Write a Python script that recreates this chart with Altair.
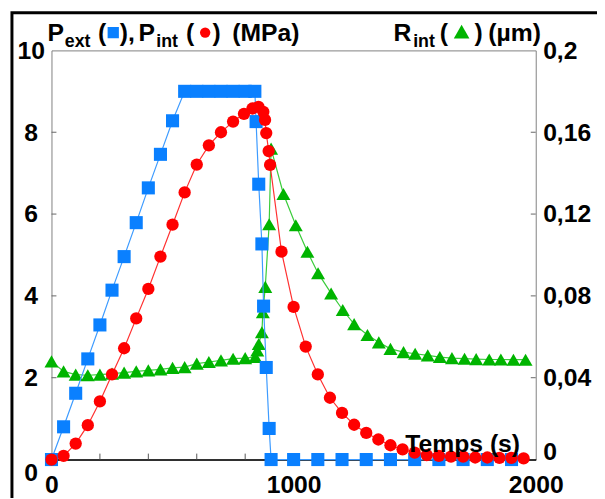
import altair as alt
import pandas as pd

# ---- data ----
t_ext = [0, 50, 100, 150, 200, 250, 300, 350, 400, 450, 500,
         550, 600, 650, 700, 750, 800, 840,
         845, 856, 869, 876, 887, 899, 907,
         1000, 1100, 1200, 1300, 1400, 1500, 1600, 1700, 1800, 1900]
p_ext = [0, 0.80, 1.62, 2.46, 3.29, 4.14, 4.96, 5.79, 6.64, 7.46, 8.28,
         9.0, 9.0, 9.0, 9.0, 9.0, 9.0, 9.0,
         8.26, 6.73, 5.27, 3.75, 2.25, 0.76, 0,
         0, 0, 0, 0, 0, 0, 0, 0, 0, 0]

t_int = [0, 50, 100, 150, 200, 250, 300, 350, 400, 450, 500, 550, 600, 650, 700, 750,
         795, 830, 855, 875, 882, 887, 897, 903,
         950, 1000, 1050, 1100, 1150, 1200, 1250, 1300, 1350, 1400, 1450, 1500,
         1550, 1600, 1650, 1700, 1750, 1800, 1850, 1900, 1950]
p_int = [0, 0.09, 0.39, 0.84, 1.42, 2.08, 2.72, 3.45, 4.17, 4.96, 5.74, 6.53, 7.21, 7.68, 8.00, 8.26,
         8.45, 8.58, 8.62, 8.50, 8.30, 7.98, 7.54, 7.20,
         5.08, 3.73, 2.76, 2.08, 1.51, 1.14, 0.85, 0.65, 0.49, 0.35, 0.25, 0.17,
         0.11, 0.09, 0.07, 0.07, 0.05, 0.05, 0.04, 0.04, 0.03]

t_r = [0, 50, 100, 150, 200, 250, 300, 350, 400, 450, 500, 550, 600, 650, 700, 750, 800,
       842, 850, 856, 869, 873, 883, 899, 907,
       958, 1009, 1057, 1101, 1155, 1203, 1250, 1305, 1352, 1400, 1454, 1502,
       1554, 1604, 1654, 1706, 1754, 1808, 1856, 1908, 1958]
r_int = [0.048, 0.0431, 0.0415, 0.0412, 0.0415, 0.0420, 0.0425, 0.0431, 0.0436, 0.0441, 0.0448,
         0.0452, 0.0469, 0.0477, 0.0485, 0.0493, 0.0496,
         0.0501, 0.0533, 0.0565, 0.0622, 0.0720, 0.0844, 0.115, 0.152,
         0.1298, 0.1145, 0.1016, 0.0911, 0.0812, 0.0731, 0.0662, 0.0609, 0.0573, 0.0541, 0.0525, 0.0517,
         0.0509, 0.0501, 0.0496, 0.0493, 0.0491, 0.0489, 0.0489, 0.0488, 0.0488]

x_labels = [0, 1000, 2000]
left_labels = [0, 2, 4, 6, 8, 10]
right_labels = [0, 0.04, 0.08, 0.12, 0.16, 0.2]
x_minor_ticks = [200, 400, 600, 800, 1000, 1200, 1400, 1600, 1800]
left_ticks = [2, 4, 6, 8]
right_ticks = [0.04, 0.08, 0.12, 0.16]

FONT = "Liberation Sans"
LFS = 25  # axis label font size
TFS = 25  # title text size
SFS = 18  # subscript size
BLUE, BLUE_L = "#0A80FF", "#3D9BFF"
RED, RED_L = "#FF0000", "#FF3030"
GREEN, GREEN_L = "#00B400", "#3ACC3A"

ext_df = pd.DataFrame({"t": t_ext, "v": p_ext})
int_df = pd.DataFrame({"t": t_int, "v": p_int})
r_df = pd.DataFrame({"t": t_r, "r": r_int})

xscale = alt.Scale(domain=[0, 2000], nice=False, zero=False)
yL = alt.Scale(domain=[0, 10], nice=False)
yR = alt.Scale(domain=[0, 0.2], nice=False)

x_axis = alt.Axis(values=x_labels, format="d", tickSize=0, grid=False, title=None,
                  domain=True, domainColor="black", domainWidth=1.5,
                  labelFont=FONT, labelFontSize=LFS, labelFontWeight="bold", labelColor="black",
                  labelPadding=13, labelFlush=False, labelOverlap=False)
yl_axis = alt.Axis(values=left_labels, format="d", tickSize=0, grid=False, title=None,
                   domain=False, orient="left", labelAlign="center", labelBaseline="middle",
                   labelOffset={"condition": {"test": "datum.value == 0", "value": 13},
                                "value": 0},
                   labelFont=FONT, labelFontSize=LFS, labelFontWeight="bold", labelColor="black",
                   labelPadding=21, labelOverlap=False)
yr_axis = alt.Axis(values=right_labels, format=".2~f",
                   labelExpr="replace(datum.label, '.', ',')",
                   labelBaseline={"condition": {"test": "datum.value == 0", "value": "alphabetic"},
                                  "value": "middle"},
                   tickSize=0, grid=False, title=None, domain=False, orient="right",
                   labelFont=FONT, labelFontSize=LFS, labelFontWeight="bold", labelColor="black",
                   labelPadding=7, labelOverlap=False)

X = alt.X("t:Q", scale=xscale, axis=x_axis)


def YL(f="v"):
    return alt.Y(f"{f}:Q", scale=yL, axis=yl_axis)


def YR(f="r"):
    return alt.Y(f"{f}:Q", scale=yR, axis=yr_axis)


ext_line = alt.Chart(ext_df).mark_line(color=BLUE_L, strokeWidth=1.2).encode(x=X, y=YL())
ext_pts = alt.Chart(ext_df).mark_point(shape="square", filled=True, size=175, color=BLUE,
                                      opacity=1).encode(x=X, y=YL())
int_line = alt.Chart(int_df).mark_line(color=RED_L, strokeWidth=1.2).encode(x=X, y=YL())
int_pts = alt.Chart(int_df).mark_point(shape="circle", filled=True, size=155, color=RED,
                                      opacity=1).encode(x=X, y=YL())

xt_df = pd.DataFrame({"t": x_minor_ticks})
xt = alt.Chart(xt_df).mark_rule(color="#555555", strokeWidth=1).encode(
    x=X, y=alt.value(408), y2=alt.value(414))
lt_df = pd.DataFrame({"v": left_ticks})
lt = alt.Chart(lt_df).mark_rule(color="#666666", strokeWidth=1).encode(
    y=YL(), x=alt.value(0), x2=alt.value(5))

left_group = alt.layer(ext_line, int_line, xt, lt, ext_pts, int_pts)

r_line = alt.Chart(r_df).mark_line(color=GREEN_L, strokeWidth=1.2).encode(x=X, y=YR())
r_pts = alt.Chart(r_df).mark_point(shape="triangle-up", filled=True, size=200, color=GREEN,
                                  opacity=1).encode(x=X, y=YR())
rt_df = pd.DataFrame({"r": right_ticks})
rt = alt.Chart(rt_df).mark_rule(color="#666666", strokeWidth=1).encode(
    y=YR(), x=alt.value(485), x2=alt.value(490))
right_group = alt.layer(r_line, rt, r_pts)

# ---- annotations ----
one = pd.DataFrame({"a": [0]})
OX, OY = 52, 48  # page position of plot origin


def txt(s, xp, yp, fs):
    return alt.Chart(one).mark_text(text=s, font=FONT, fontSize=fs, fontWeight="bold",
                                    align="left", baseline="alphabetic", color="black").encode(
        x=alt.value(xp - OX), y=alt.value(yp - OY))


def sym(shape, color, xp, yp, size):
    return alt.Chart(one).mark_point(shape=shape, filled=True, size=size, color=color,
                                     opacity=1).encode(x=alt.value(xp - OX), y=alt.value(yp - OY))


title_pieces = [
    ("P", 48, 38, TFS), ("ext", 65.5, 45, SFS), ("(", 99, 38, TFS), ("),", 121, 38, TFS),
    ("P", 140, 38, TFS), ("int", 158, 45, SFS), ("(", 188, 38, TFS), (")", 215, 38, TFS),
    ("(MPa)", 235, 38, TFS),
    ("R", 398, 38, TFS), ("int", 418, 45, SFS), ("(", 445, 38, TFS), (")", 480, 38, TFS),
    ("(µm)", 494, 38, TFS),
    ("Temps (s)", 410, 454, TFS),
]
ann = [txt(*p) for p in title_pieces]
ann += [sym("square", BLUE, 114.5, 30, 130),
        sym("circle", RED, 207.5, 30, 110),
        sym("triangle-up", GREEN, 467, 29, 250)]

frame = alt.Chart(one).mark_rect(fillOpacity=0, stroke="black", strokeWidth=3).encode(
    x=alt.value(-40), x2=alt.value(600), y=alt.value(-38), y2=alt.value(480))

chart = alt.layer(right_group, left_group, frame, *ann).resolve_scale(
    y="independent"
).properties(
    width=490, height=414,
    autosize=alt.AutoSizeParams(type="none"),
    padding={"left": 44, "top": 40, "right": 62, "bottom": 36},
    background="white",
).configure_view(stroke="#808080", strokeWidth=1)

chart.save("out.html", embed_options={"renderer": "svg", "actions": False})
